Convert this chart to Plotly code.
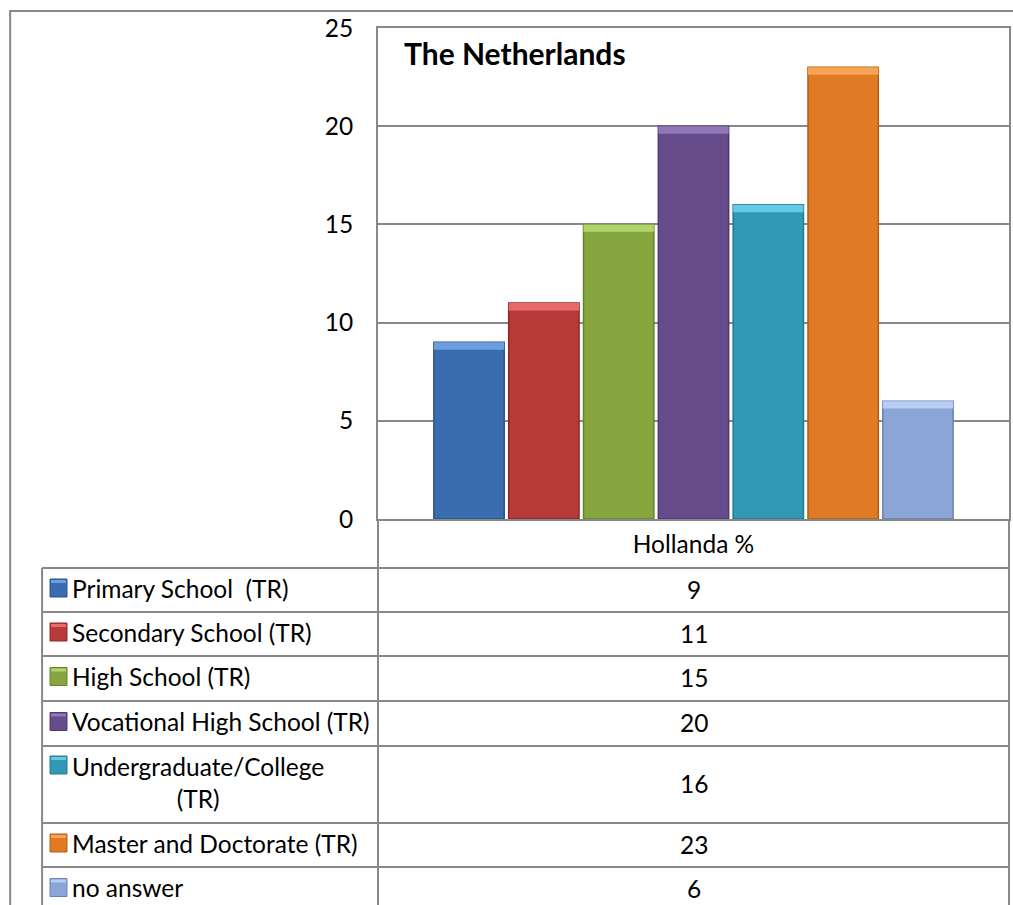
import plotly.graph_objects as go

# Education level shares, Hollanda %
category = "Hollanda %"
levels = [
    "Primary School  (TR)",
    "Secondary School (TR)",
    "High School (TR)",
    "Vocational High School (TR)",
    "Undergraduate/College<br>(TR)",
    "Master and Doctorate (TR)",
    "no answer",
]
values = [9, 11, 15, 20, 16, 23, 6]
y_ticks = [0, 5, 10, 15, 20, 25]
title_text = "The Netherlands"

# fill, top highlight, edge colours per series
fills = ["#3a6db0", "#b83a38", "#87a640", "#674c8c", "#3198b6", "#e07a24", "#8aa5d6"]
lights = ["#6d9fe0", "#e46b69", "#b2d46c", "#9077b8", "#67cae4", "#f8a456", "#b7cdf3"]
edges = ["#2b5187", "#8e2726", "#66802e", "#4f3870", "#237890", "#b35f17", "#6a82b0"]

FONT = "Lato"
TXT = 24.5
GRID = "#888888"
W, H = 1013, 905
L, R, T, B = 378, 1011, 28, 519  # plot area in pixels


def px(x):
    return (x - L) / (R - L)


def py(y):
    return (B - y) / (B - T)


fig = go.Figure()
hl = 0.38
for i, (name, v) in enumerate(zip(levels, values)):
    fig.add_trace(go.Bar(
        x=[category], y=[v], name=name.replace("<br>", " "),
        offsetgroup=str(i),
        marker=dict(color=fills[i], line=dict(color=edges[i], width=1.5)),
        showlegend=False,
    ))
    # bevel highlight along the top of each bar
    fig.add_trace(go.Bar(
        x=[category], y=[hl], base=[v - hl],
        offsetgroup=str(i),
        marker=dict(color=lights[i], line=dict(width=0)),
        showlegend=False, hoverinfo="skip",
    ))

shapes = []
line = dict(color=GRID, width=2)
# outer frame
shapes.append(dict(type="rect", xref="paper", yref="paper",
                   x0=px(9), x1=px(1020), y0=py(11), y1=py(920), line=line))
# data table grid
row_edges = [568, 612, 656, 701, 746, 823, 867, 912]
shapes.append(dict(type="line", xref="paper", yref="paper",
                   x0=px(L), x1=px(L), y0=py(B), y1=py(915), line=line))
shapes.append(dict(type="line", xref="paper", yref="paper",
                   x0=px(R), x1=px(R), y0=py(B), y1=py(915), line=line))
shapes.append(dict(type="line", xref="paper", yref="paper",
                   x0=px(41), x1=px(41), y0=py(row_edges[0]), y1=py(915), line=line))
for ry in row_edges[:-1]:
    shapes.append(dict(type="line", xref="paper", yref="paper",
                       x0=px(41), x1=px(R), y0=py(ry), y1=py(ry), line=line))

annotations = [dict(
    text=f"<b>{title_text}</b>", xref="paper", yref="paper",
    x=px(402), y=py(53), xanchor="left", yanchor="middle", showarrow=False,
    font=dict(family=FONT, size=30, color="black"),
)]

for i, (name, v) in enumerate(zip(levels, values)):
    top, bot = row_edges[i], row_edges[i + 1]
    cy = (top + bot) / 2
    two_line = "<br>" in name
    key_cy = top + 19 if two_line else cy - 2
    shapes.append(dict(type="rect", xref="paper", yref="paper",
                       x0=px(49), x1=px(66), y0=py(key_cy - 9), y1=py(key_cy + 9),
                       fillcolor=fills[i], line=dict(color=edges[i], width=1)))
    shapes.append(dict(type="rect", xref="paper", yref="paper",
                       x0=px(50), x1=px(65), y0=py(key_cy - 8), y1=py(key_cy - 5),
                       fillcolor=lights[i], line=dict(width=0)))
    annotations.append(dict(
        text=name, xref="paper", yref="paper",
        x=px(69), y=py(cy - 2 if not two_line else cy - 2), xanchor="left", yanchor="middle",
        align="center", showarrow=False,
        font=dict(family=FONT, size=TXT, color="black"),
    ))
    annotations.append(dict(
        text=str(v), xref="paper", yref="paper",
        x=px((L + R) / 2), y=py(cy - 1), xanchor="center", yanchor="middle",
        showarrow=False, font=dict(family=FONT, size=TXT, color="black"),
    ))

fig.update_layout(
    width=W, height=H,
    margin=dict(l=L, r=W - R, t=T, b=H - B, pad=0),
    paper_bgcolor="white", plot_bgcolor="white",
    barmode="group", bargap=0.17, bargroupgap=0.06,
    showlegend=False,
    shapes=shapes, annotations=annotations,
    font=dict(family=FONT, size=TXT, color="black"),
)
fig.update_xaxes(
    type="category", showgrid=False, showline=True, mirror=True,
    linecolor=GRID, linewidth=2, ticks="outside", ticklen=3,
    tickcolor="rgba(0,0,0,0)", tickfont=dict(family=FONT, size=TXT, color="black"),
    fixedrange=True,
)
fig.update_yaxes(
    range=[0, 25], tickvals=y_ticks, showgrid=True, gridcolor=GRID, gridwidth=2,
    showline=True, mirror=True, linecolor=GRID, linewidth=2,
    ticks="outside", ticklen=18, tickcolor="rgba(0,0,0,0)",
    tickfont=dict(family=FONT, size=TXT, color="black"), zeroline=False,
    fixedrange=True,
)

fig.write_html("out.html")
